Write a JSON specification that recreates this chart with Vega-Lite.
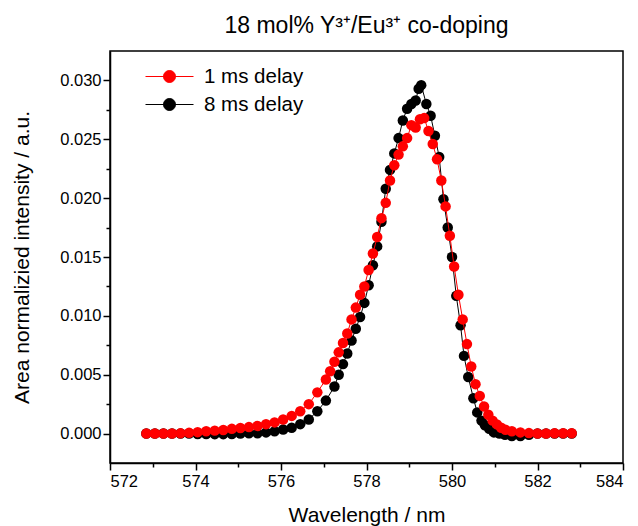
{
  "$schema": "https://vega.github.io/schema/vega-lite/v6.json",
  "autosize": {"type": "none"},
  "padding": {"left": 110, "top": 51, "right": 15, "bottom": 63},
  "width": 513,
  "height": 412,
  "background": "white",
  "title": {
    "text": "18 mol% Y³⁺/Eu³⁺ co-doping",
    "font": "Liberation Sans",
    "fontSize": 23,
    "fontWeight": "normal",
    "color": "black",
    "anchor": "middle",
    "offset": 13
  },
  "config": {
    "view": {"stroke": "black", "strokeWidth": 1.5},
    "axis": {
      "domainColor": "black",
      "domainWidth": 1.5,
      "tickColor": "black",
      "tickWidth": 1.5,
      "grid": false,
      "labelFont": "Liberation Sans",
      "labelFontSize": 16.5,
      "labelColor": "black",
      "titleFont": "Liberation Sans",
      "titleFontSize": 21,
      "titleFontWeight": "normal",
      "titleColor": "black"
    }
  },
  "datasets": {
    "d1": [
      {"wl": 572.85, "v": 0.0000}, {"wl": 573.05, "v": 0.0000}, {"wl": 573.25, "v": 0.0000},
      {"wl": 573.45, "v": 0.0000}, {"wl": 573.65, "v": 0.00002}, {"wl": 573.85, "v": 0.00006},
      {"wl": 574.05, "v": 0.00012}, {"wl": 574.25, "v": 0.0002}, {"wl": 574.45, "v": 0.00025},
      {"wl": 574.65, "v": 0.0003}, {"wl": 574.85, "v": 0.0004}, {"wl": 575.05, "v": 0.00048},
      {"wl": 575.25, "v": 0.00055}, {"wl": 575.45, "v": 0.00065}, {"wl": 575.65, "v": 0.0008},
      {"wl": 575.85, "v": 0.00095}, {"wl": 576.05, "v": 0.0012}, {"wl": 576.25, "v": 0.0015},
      {"wl": 576.45, "v": 0.0019}, {"wl": 576.65, "v": 0.0025}, {"wl": 576.85, "v": 0.0035},
      {"wl": 577.05, "v": 0.0046}, {"wl": 577.15, "v": 0.0053}, {"wl": 577.25, "v": 0.0061},
      {"wl": 577.35, "v": 0.0069}, {"wl": 577.45, "v": 0.0077}, {"wl": 577.55, "v": 0.0085},
      {"wl": 577.65, "v": 0.0097}, {"wl": 577.75, "v": 0.0107}, {"wl": 577.85, "v": 0.0118},
      {"wl": 577.95, "v": 0.0125}, {"wl": 578.05, "v": 0.0139}, {"wl": 578.15, "v": 0.0153},
      {"wl": 578.25, "v": 0.0167}, {"wl": 578.35, "v": 0.0183}, {"wl": 578.45, "v": 0.0196},
      {"wl": 578.55, "v": 0.0215}, {"wl": 578.65, "v": 0.0228}, {"wl": 578.75, "v": 0.0237},
      {"wl": 578.85, "v": 0.0244}, {"wl": 578.95, "v": 0.0251}, {"wl": 579.05, "v": 0.0262},
      {"wl": 579.15, "v": 0.0260}, {"wl": 579.25, "v": 0.0267}, {"wl": 579.35, "v": 0.0268},
      {"wl": 579.45, "v": 0.0257}, {"wl": 579.55, "v": 0.0246}, {"wl": 579.65, "v": 0.0233},
      {"wl": 579.75, "v": 0.0215}, {"wl": 579.85, "v": 0.0193}, {"wl": 579.95, "v": 0.0168},
      {"wl": 580.05, "v": 0.0142}, {"wl": 580.15, "v": 0.0118}, {"wl": 580.25, "v": 0.0097},
      {"wl": 580.35, "v": 0.0076}, {"wl": 580.45, "v": 0.0057}, {"wl": 580.55, "v": 0.0042},
      {"wl": 580.65, "v": 0.0032}, {"wl": 580.75, "v": 0.0023}, {"wl": 580.85, "v": 0.0016},
      {"wl": 580.95, "v": 0.0011}, {"wl": 581.05, "v": 0.00078}, {"wl": 581.15, "v": 0.0005},
      {"wl": 581.25, "v": 0.00033}, {"wl": 581.4, "v": 0.0002}, {"wl": 581.6, "v": 0.0001},
      {"wl": 581.8, "v": 0.00004}, {"wl": 582.0, "v": 0.0000}, {"wl": 582.2, "v": 0.0000},
      {"wl": 582.4, "v": 0.00003}, {"wl": 582.6, "v": 0.00003}, {"wl": 582.8, "v": 0.00003}
    ],
    "d8": [
      {"wl": 572.85, "v": 0.0000}, {"wl": 573.05, "v": 0.0000}, {"wl": 573.25, "v": 0.0000},
      {"wl": 573.45, "v": 0.0000}, {"wl": 573.65, "v": 0.0000}, {"wl": 573.85, "v": 0.0000},
      {"wl": 574.05, "v": -0.00003}, {"wl": 574.25, "v": -0.00003}, {"wl": 574.45, "v": -0.00005},
      {"wl": 574.65, "v": -0.00005}, {"wl": 574.85, "v": -0.00003}, {"wl": 575.05, "v": 0.0000},
      {"wl": 575.25, "v": 0.00002}, {"wl": 575.45, "v": 0.00003}, {"wl": 575.65, "v": 0.0001},
      {"wl": 575.85, "v": 0.0002}, {"wl": 576.05, "v": 0.00035}, {"wl": 576.25, "v": 0.0005},
      {"wl": 576.45, "v": 0.0008}, {"wl": 576.65, "v": 0.0012}, {"wl": 576.85, "v": 0.0019},
      {"wl": 577.05, "v": 0.0028}, {"wl": 577.25, "v": 0.0040}, {"wl": 577.35, "v": 0.0050},
      {"wl": 577.45, "v": 0.0059}, {"wl": 577.55, "v": 0.0068}, {"wl": 577.65, "v": 0.0079},
      {"wl": 577.75, "v": 0.0089}, {"wl": 577.85, "v": 0.0099}, {"wl": 577.95, "v": 0.0111},
      {"wl": 578.05, "v": 0.0126}, {"wl": 578.15, "v": 0.0143}, {"wl": 578.25, "v": 0.0159},
      {"wl": 578.35, "v": 0.0180}, {"wl": 578.45, "v": 0.0208}, {"wl": 578.55, "v": 0.0224},
      {"wl": 578.65, "v": 0.0238}, {"wl": 578.75, "v": 0.0251}, {"wl": 578.85, "v": 0.0266},
      {"wl": 578.95, "v": 0.0276}, {"wl": 579.05, "v": 0.0280}, {"wl": 579.15, "v": 0.0283},
      {"wl": 579.22, "v": 0.0293}, {"wl": 579.28, "v": 0.0296}, {"wl": 579.4, "v": 0.0280},
      {"wl": 579.5, "v": 0.0270}, {"wl": 579.6, "v": 0.0253}, {"wl": 579.7, "v": 0.0235},
      {"wl": 579.8, "v": 0.0199}, {"wl": 579.9, "v": 0.0175}, {"wl": 580.0, "v": 0.0150},
      {"wl": 580.1, "v": 0.0117}, {"wl": 580.2, "v": 0.0092}, {"wl": 580.28, "v": 0.0066},
      {"wl": 580.38, "v": 0.0048}, {"wl": 580.5, "v": 0.0030}, {"wl": 580.59, "v": 0.0018},
      {"wl": 580.69, "v": 0.0011}, {"wl": 580.77, "v": 0.0007}, {"wl": 580.87, "v": 0.0004},
      {"wl": 580.98, "v": 0.0001}, {"wl": 581.11, "v": 0.0000}, {"wl": 581.24, "v": -0.0001},
      {"wl": 581.4, "v": -0.0002}, {"wl": 581.6, "v": -0.0002}, {"wl": 581.8, "v": -0.0001},
      {"wl": 582.0, "v": 0.0000}, {"wl": 582.2, "v": 0.0000}, {"wl": 582.4, "v": 0.0000},
      {"wl": 582.6, "v": 0.0000}, {"wl": 582.8, "v": 0.0000}
    ]
  },
  "encoding": {
    "x": {
      "field": "wl",
      "type": "quantitative",
      "scale": {"domain": [572, 584], "nice": false, "zero": false},
      "axis": {
        "title": "Wavelength / nm",
        "values": [572, 573, 574, 575, 576, 577, 578, 579, 580, 581, 582, 583, 584],
        "labelExpr": "datum.value % 2 === 0 ? datum.label : ''",
        "format": "d",
        "tickSize": {"expr": "datum.value % 2 === 0 ? 7 : 4"},
        "labelPadding": 3,
        "titlePadding": 15
      }
    },
    "y": {
      "field": "v",
      "type": "quantitative",
      "scale": {"domain": [-0.0025, 0.0325], "nice": false, "zero": false},
      "axis": {
        "title": "Area normalizied intensity / a.u.",
        "values": [0, 0.0025, 0.005, 0.0075, 0.01, 0.0125, 0.015, 0.0175, 0.02, 0.0225, 0.025, 0.0275, 0.03],
        "labelExpr": "round(datum.value * 10000) % 50 === 0 ? datum.label : ''",
        "format": ".3f",
        "tickSize": {"expr": "round(datum.value * 10000) % 50 === 0 ? 7 : 4"},
        "labelPadding": 2,
        "titlePadding": 27
      }
    }
  },
  "layer": [
    {
      "data": {"name": "d8"},
      "mark": {"type": "line", "strokeWidth": 1, "point": {"filled": true, "size": 110, "opacity": 1}},
      "encoding": {
        "color": {
          "datum": "8 ms delay",
          "scale": {"domain": ["1 ms delay", "8 ms delay"], "range": ["#ff0000", "#000000"]},
          "legend": {
            "title": null,
            "orient": "none",
            "legendX": 49,
            "legendY": 15,
            "padding": 0,
            "symbolType": "M-2.4,0H2.4M-0.6,0A0.6,0.6 0 1,1 0.6,0A0.6,0.6 0 1,1 -0.6,0Z",
            "symbolSize": 400,
            "symbolStrokeWidth": 1,
            "labelOffset": 24,
            "labelFont": "Liberation Sans",
            "labelFontSize": 20.5,
            "labelColor": "black",
            "rowPadding": 7,
            "encode": {
              "symbols": {
                "update": {
                  "fill": {"scale": "color", "field": "value"},
                  "stroke": {"scale": "color", "field": "value"},
                  "strokeWidth": {"value": 1},
                  "opacity": {"value": 1}
                }
              }
            }
          }
        }
      }
    },
    {
      "data": {"name": "d1"},
      "mark": {"type": "line", "strokeWidth": 1, "point": {"filled": true, "size": 110, "opacity": 1}},
      "encoding": {
        "color": {
          "datum": "1 ms delay",
          "scale": {"domain": ["1 ms delay", "8 ms delay"], "range": ["#ff0000", "#000000"]}
        }
      }
    }
  ]
}
